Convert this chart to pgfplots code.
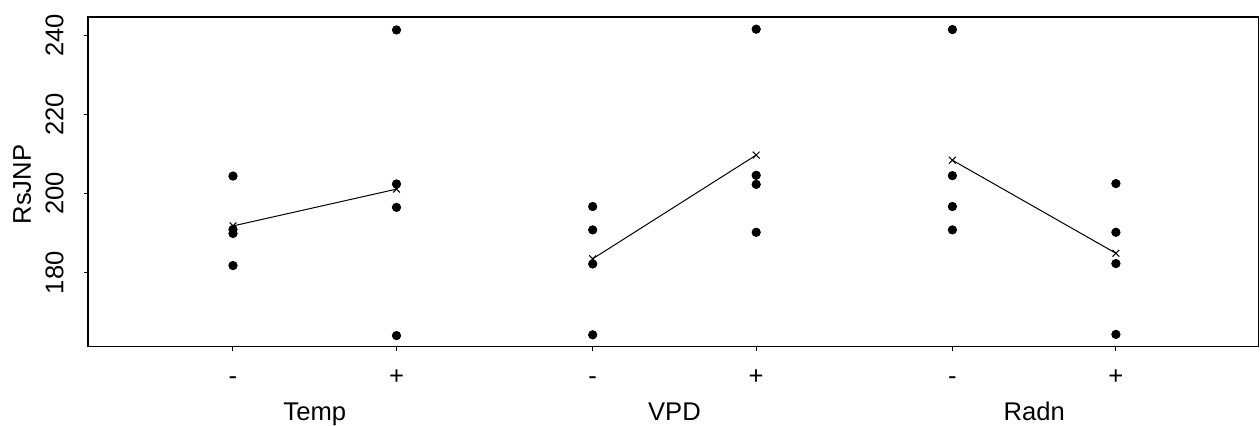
\documentclass[border=0pt]{standalone}
\usepackage{pgfplots}
\pgfplotsset{compat=1.18}
\usepackage{fontspec}
\setmainfont{Liberation Sans}

% Four replicate responses at the low (-) and high (+) level of each factor
\pgfplotstableread{
x     y
1.0   204.4
1.0   190.9
1.0   189.9
1.0   181.8
2.0   241.3
2.0   202.4
2.0   196.5
2.0   164.1
3.2   196.7
3.2   190.8
3.2   182.2
3.2   164.3
4.2   241.5
4.2   204.6
4.2   202.3
4.2   190.2
5.4   241.4
5.4   204.5
5.4   196.7
5.4   190.8
6.4   202.5
6.4   190.2
6.4   182.3
6.4   164.4
}\obs

\begin{document}
\fontsize{12.8}{15}\selectfont
\begin{tikzpicture}
\begin{axis}[
  scale only axis,
  width=585pt, height=164.7pt,
  xmin=0.115, xmax=7.271,
  ymin=161.3, ymax=244.5,
  axis line style={line width=0.8pt},
  xtick={1,2,3.2,4.2,5.4,6.4},
  xticklabels={-,+,-,+,-,+},
  ytick={180,200,220,240},
  xtick pos=lower, ytick pos=left,
  tick align=outside,
  major tick length=2pt,
  tick style={black, line width=0.5pt},
  /pgf/number format/assume math mode=true,
  y tick label style={rotate=90, anchor=base},
  yticklabel shift=10.5pt,
  x tick label style={anchor=base},
  xticklabel shift=17pt,
  clip=false,
]
\coordinate (LL) at (rel axis cs:0,0);
\coordinate (UR) at (rel axis cs:1,1);

% individual observations
\addplot[only marks, mark=*, mark size=2.1pt, black] table[x=x, y=y] {\obs};

% factor-level means joined by a line
\addplot[black, line width=0.5pt, mark=x, mark size=2.4pt,
  mark options={line width=0.5pt}] coordinates {(1,191.8) (2,201.1)};
\addplot[black, line width=0.5pt, mark=x, mark size=2.4pt,
  mark options={line width=0.5pt}] coordinates {(3.2,183.5) (4.2,209.7)};
\addplot[black, line width=0.5pt, mark=x, mark size=2.4pt,
  mark options={line width=0.5pt}] coordinates {(5.4,208.4) (6.4,184.9)};

% factor names under each pair of levels
\node[anchor=base] at ([yshift=-37pt]axis cs:1.5,161.3) {Temp};
\node[anchor=base] at ([yshift=-37pt]axis cs:3.7,161.3) {VPD};
\node[anchor=base] at ([yshift=-37pt]axis cs:5.9,161.3) {Radn};

% response label
\node[rotate=90, anchor=base] at ([xshift=-28.7pt]rel axis cs:0,0.492) {RsJNP};
\end{axis}
\pgfresetboundingbox
\path ([shift={(-44.15pt,-39.65pt)}]LL) rectangle ([shift={(0.85pt,8.65pt)}]UR);
\end{tikzpicture}
\end{document}
